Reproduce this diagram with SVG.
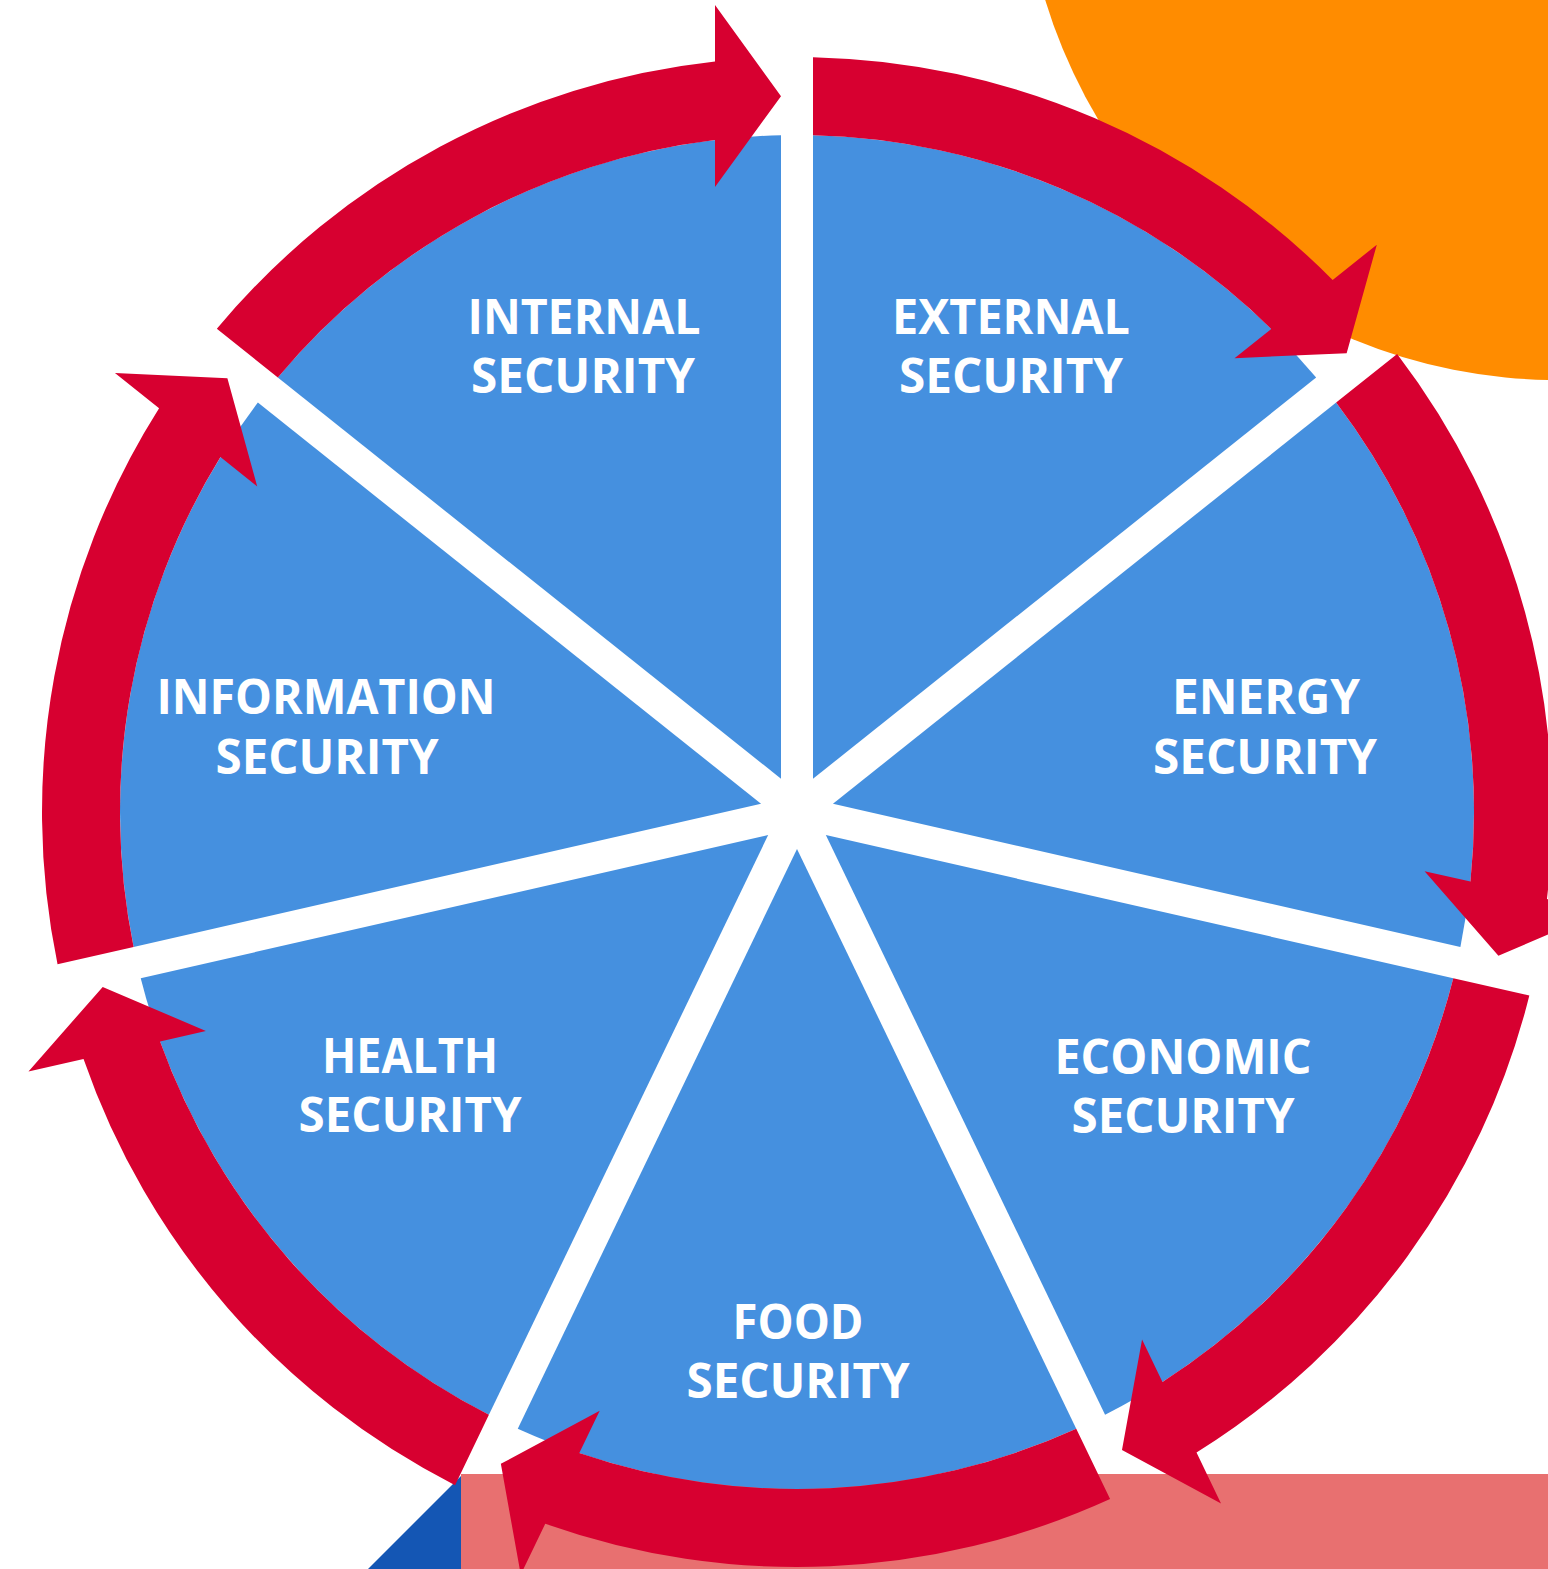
<svg xmlns="http://www.w3.org/2000/svg" width="1548" height="1569" viewBox="0 0 1548 1569">
<style>
.sector{fill:#4590df;}
.arrow{fill:#d70030;}
.lbl{font-family:"Open Sans","Liberation Sans",Arial,sans-serif;font-weight:700;font-size:48px;fill:#ffffff;text-anchor:middle;}
</style>
<rect x="0" y="0" width="1548" height="1569" fill="#ffffff"/>
<g id="background">
<circle cx="1558" cy="-156" r="536" fill="#ff8c00"/>
<rect x="461" y="1474" width="1087" height="95" fill="#e87070"/>
<polygon points="461,1476 461,1569 368,1569" fill="#1456b4"/>
</g>
<g id="node-external">
<path class="sector" d="M813,778.77 L813,135.19 A677,677 0 0 1 1316.17,377.51 Z"/>
<text class="lbl" x="1011" y="334" textLength="238" lengthAdjust="spacingAndGlyphs">EXTERNAL</text>
<text class="lbl" x="1011" y="393" textLength="224" lengthAdjust="spacingAndGlyphs">SECURITY</text>
</g>
<g id="node-energy">
<path class="sector" d="M832.96,803.79 L1336.13,402.53 A677,677 0 0 1 1460.40,947.01 Z"/>
<text class="lbl" x="1266" y="714" textLength="188" lengthAdjust="spacingAndGlyphs">ENERGY</text>
<text class="lbl" x="1265" y="774" textLength="224" lengthAdjust="spacingAndGlyphs">SECURITY</text>
</g>
<g id="node-economic">
<path class="sector" d="M825.83,834.99 L1453.28,978.21 A677,677 0 0 1 1105.08,1414.84 Z"/>
<text class="lbl" x="1183" y="1074" textLength="257" lengthAdjust="spacingAndGlyphs">ECONOMIC</text>
<text class="lbl" x="1183" y="1133" textLength="223" lengthAdjust="spacingAndGlyphs">SECURITY</text>
</g>
<g id="node-food">
<path class="sector" d="M797,848.88 L1076.24,1428.72 A677,677 0 0 1 517.76,1428.72 Z"/>
<text class="lbl" x="798" y="1339" textLength="131" lengthAdjust="spacingAndGlyphs">FOOD</text>
<text class="lbl" x="798" y="1398" textLength="223" lengthAdjust="spacingAndGlyphs">SECURITY</text>
</g>
<g id="node-health">
<path class="sector" d="M768.17,834.99 L488.92,1414.84 A677,677 0 0 1 140.72,978.21 Z"/>
<text class="lbl" x="410" y="1073" textLength="176" lengthAdjust="spacingAndGlyphs">HEALTH</text>
<text class="lbl" x="410" y="1132" textLength="223" lengthAdjust="spacingAndGlyphs">SECURITY</text>
</g>
<g id="node-information">
<path class="sector" d="M761.04,803.79 L133.60,947.01 A677,677 0 0 1 257.87,402.53 Z"/>
<text class="lbl" x="326" y="714" textLength="339" lengthAdjust="spacingAndGlyphs">INFORMATION</text>
<text class="lbl" x="327" y="774" textLength="223" lengthAdjust="spacingAndGlyphs">SECURITY</text>
</g>
<g id="node-internal">
<path class="sector" d="M781,778.77 L277.83,377.51 A677,677 0 0 1 781,135.19 Z"/>
<text class="lbl" x="584" y="334" textLength="233" lengthAdjust="spacingAndGlyphs">INTERNAL</text>
<text class="lbl" x="583" y="393" textLength="224" lengthAdjust="spacingAndGlyphs">SECURITY</text>
</g>
<g id="connectors">
<path class="arrow" d="M813,57.17 A755,755 0 0 1 1332.66,279.94 L1376.81,244.73 L1346.65,353.20 L1234.51,358.21 L1271.28,328.90 A677,677 0 0 0 813,135.19 Z"/>
<path class="arrow" d="M1397.13,353.88 A755,755 0 0 1 1546.96,899.07 L1602.02,911.63 L1498.41,955.68 L1424.58,871.14 L1470.42,881.60 A677,677 0 0 0 1336.13,402.53 Z"/>
<path class="arrow" d="M1529.34,995.57 A755,755 0 0 1 1196.52,1452.62 L1221.02,1503.50 L1121.99,1449.97 L1142.06,1339.53 L1162.46,1381.89 A677,677 0 0 0 1453.28,978.21 Z"/>
<path class="arrow" d="M1110.09,1499.02 A755,755 0 0 1 545.24,1523.78 L520.74,1574.66 L500.85,1463.85 L599.70,1410.69 L579.30,1453.05 A677,677 0 0 0 1076.24,1428.72 Z"/>
<path class="arrow" d="M455.07,1485.14 A755,755 0 0 1 83.54,1058.95 L28.48,1071.51 L102.71,986.88 L205.92,1031.02 L160.08,1041.48 A677,677 0 0 0 488.92,1414.84 Z"/>
<path class="arrow" d="M57.54,964.37 A755,755 0 0 1 159.08,408.16 L114.93,372.95 L227.39,378.22 L257.23,486.43 L220.46,457.12 A677,677 0 0 0 133.60,947.01 Z"/>
<path class="arrow" d="M216.83,328.86 A755,755 0 0 1 715,61.47 L715,5 L781,96.2 L715,187 L715,139.98 A677,677 0 0 0 277.83,377.51 Z"/>
</g>
</svg>
